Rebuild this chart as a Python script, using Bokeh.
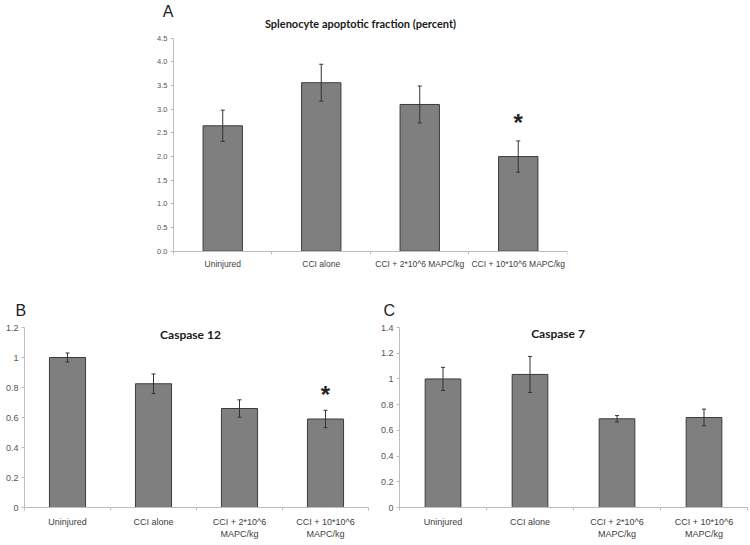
from bokeh.plotting import figure
from bokeh.layouts import column, row
from bokeh.models import (Range1d, FixedTicker, Whisker, ColumnDataSource, Label, Title,
                          TeeHead, CustomJSTickFormatter)
from bokeh.embed import file_html
from bokeh.resources import INLINE
from bokeh.core.properties import value

# ---------------- data ----------------
categories_a = ["Uninjured", "CCI alone", "CCI + 2*10^6 MAPC/kg", "CCI + 10*10^6 MAPC/kg"]
categories_bc = ["Uninjured", "CCI alone", "CCI + 2*10^6\nMAPC/kg", "CCI + 10*10^6\nMAPC/kg"]

apoptotic_mean = [2.65, 3.56, 3.10, 2.00]
apoptotic_err = [0.33, 0.39, 0.39, 0.33]
apoptotic_sig = [False, False, False, True]

casp12_mean = [1.00, 0.825, 0.66, 0.59]
casp12_err = [0.03, 0.065, 0.058, 0.058]
casp12_sig = [False, False, False, True]

casp7_mean = [1.00, 1.035, 0.69, 0.70]
casp7_err = [0.09, 0.14, 0.025, 0.065]
casp7_sig = [False, False, False, False]

a_ticks = [0.0, 0.5, 1.0, 1.5, 2.0, 2.5, 3.0, 3.5, 4.0, 4.5]
a_tick_labels = ["0.0", "0.5", "1.0", "1.5", "2.0", "2.5", "3.0", "3.5", "4.0", "4.5"]
b_ticks = [0, 0.2, 0.4, 0.6, 0.8, 1.0, 1.2]
b_tick_labels = ["0", "0.2", "0.4", "0.6", "0.8", "1", "1.2"]
c_ticks = [0, 0.2, 0.4, 0.6, 0.8, 1.0, 1.2, 1.4]
c_tick_labels = ["0", "0.2", "0.4", "0.6", "0.8", "1", "1.2", "1.4"]

title_a = "Splenocyte apoptotic fraction (percent)"
title_b = "Caspase 12"
title_c = "Caspase 7"

# ---------------- style ----------------
BAR_FILL = "#7f7f7f"
BAR_LINE = "#3c3c3c"
AXIS_COL = "#bdbdbd"
TICK_TXT = "#555555"
CAT_TXT = "#404040"
ERR_COL = "#333333"
FONT = "Liberation Sans"
TITLE_FONT = "Lato"

LOOKUP = """
const i = tvals.findIndex(t => Math.abs(t - tick) < 1e-6);
return i >= 0 ? tlabels[i] : "";
"""


def panel(width, height, borders, x_pad, y_pad, y_top, yticks, ylabels, ytick_size, cats,
          cat_size, cat_standoff, means, errs, sig, bar_w, star_gap, star_size):
    n = len(cats)
    centers = [i + 0.5 for i in range(n)]
    bounds = [float(i) for i in range(n + 1)]
    p = figure(width=width, height=height, x_range=Range1d(-x_pad, n),
               y_range=Range1d(-y_pad, y_top),
               output_backend="svg", toolbar_location=None, tools="",
               min_border_left=borders[0], min_border_right=borders[1],
               min_border_top=borders[2], min_border_bottom=borders[3])
    p.grid.visible = False
    p.outline_line_color = None
    p.background_fill_color = "white"
    p.border_fill_color = "white"

    xa = p.xaxis[0]
    xa.bounds = (0, n)
    if y_pad:
        xa.fixed_location = 0
    xa.ticker = FixedTicker(ticks=centers, minor_ticks=bounds)
    xa.formatter = CustomJSTickFormatter(args=dict(tvals=centers, tlabels=cats), code=LOOKUP)
    xa.axis_line_color = AXIS_COL
    xa.major_tick_line_color = None
    xa.major_tick_out = 3
    xa.major_tick_in = 0
    xa.minor_tick_line_color = AXIS_COL
    xa.minor_tick_out = 3
    xa.minor_tick_in = 0
    xa.major_label_standoff = cat_standoff
    xa.major_label_text_font = FONT
    xa.major_label_text_font_size = cat_size
    xa.major_label_text_color = CAT_TXT

    ya = p.yaxis[0]
    ya.bounds = (yticks[0], yticks[-1])
    if x_pad:
        ya.fixed_location = 0
    ya.ticker = FixedTicker(ticks=yticks, minor_ticks=[])
    ya.formatter = CustomJSTickFormatter(args=dict(tvals=yticks, tlabels=ylabels), code=LOOKUP)
    ya.axis_line_color = AXIS_COL
    ya.major_tick_line_color = AXIS_COL
    ya.major_tick_out = 3
    ya.major_tick_in = 0
    ya.minor_tick_line_color = None
    ya.major_label_standoff = 3
    ya.major_label_text_font = FONT
    ya.major_label_text_font_size = ytick_size
    ya.major_label_text_color = TICK_TXT

    p.vbar(x=centers, top=means, bottom=0, width=bar_w,
           fill_color=BAR_FILL, line_color=BAR_LINE, line_width=1)

    src = ColumnDataSource(dict(x=centers,
                                lower=[m - e for m, e in zip(means, errs)],
                                upper=[m + e for m, e in zip(means, errs)]))
    w = Whisker(base="x", lower="lower", upper="upper", source=src,
                line_color=ERR_COL, line_width=1, level="annotation",
                upper_head=TeeHead(size=4, line_color=ERR_COL, line_width=1),
                lower_head=TeeHead(size=4, line_color=ERR_COL, line_width=1))
    p.add_layout(w)

    sx = [c for c, s in zip(centers, sig) if s]
    sy = [m + e + star_gap for m, e, s in zip(means, errs, sig) if s]
    if sx:
        p.text(x=sx, y=sy, text=["*"] * len(sx), text_font=value(FONT),
               text_font_style="bold", text_font_size=star_size, text_color="#222222",
               text_align="center", text_baseline="alphabetic")
    return p


def add_label(p, x, y, text, size, font, style="normal", color="#222222"):
    p.add_layout(Label(x=x, y=y, text=text, text_font=font, text_font_size=size,
                       text_font_style=style, text_color=color,
                       text_align="center", text_baseline="middle"))


def add_letter(p, text, offset, standoff):
    p.add_layout(Title(text=text, align="left", vertical_align="top", offset=offset,
                       standoff=standoff, text_font=FONT, text_font_size="16px",
                       text_font_style="normal", text_color="#222222"), "above")


# Panel A: frame spans the whole top area; axes are pinned at 0 and limited by bounds
pA = panel(750, 293, (140, 183, 0, 20), 0.335, 0.471, 5.297, a_ticks, a_tick_labels,
           "7.5px", categories_a, "8.5px", 5, apoptotic_mean, apoptotic_err,
           apoptotic_sig, 0.4, 0.38, "24px")
add_label(pA, -0.056, 5.068, "A", "16px", FONT)
add_label(pA, 1.898, 4.82, title_a, "11px", TITLE_FONT, "bold", "#1a1a1a")

pB = panel(375, 252, (24, 7, 34, 38), 0, 0, 1.2, b_ticks, b_tick_labels, "9px",
           categories_bc, "9px", 6, casp12_mean, casp12_err, casp12_sig,
           0.42, 0.107, "24px")
add_letter(pB, "B", -9, 14)
add_label(pB, 1.93, 1.153, title_b, "12px", TITLE_FONT, "bold", "#1a1a1a")

pC = panel(375, 252, (24, 3, 34, 38), 0, 0, 1.4, c_ticks, c_tick_labels, "9px",
           categories_bc, "9px", 6, casp7_mean, casp7_err, casp7_sig,
           0.41, 0.07, "24px")
add_letter(pC, "C", -16, 14)
add_label(pC, 1.822, 1.353, title_c, "12px", TITLE_FONT, "bold", "#1a1a1a")

layout = column(pA, row(pB, pC, spacing=0), spacing=0)

open("out.html", "w").write(file_html(layout, INLINE))
